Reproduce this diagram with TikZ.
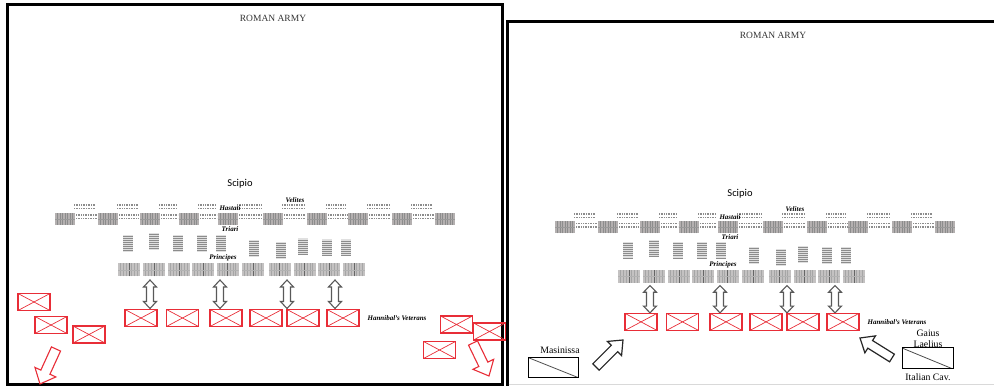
\documentclass[tikz,border=0pt]{standalone}
\usepackage{fontspec}
\setmainfont{Liberation Serif}
\newfontfamily\carlito{Carlito}
\usetikzlibrary{calc}
\definecolor{armred}{RGB}{232,45,55}
\definecolor{hgray}{RGB}{180,176,176}
\definecolor{pgray}{RGB}{196,194,194}
\tikzset{
  unit/.style={inner sep=0pt, outer sep=0pt},
  hast/.style={unit, minimum width=20pt, minimum height=12pt, fill=hgray,
    path picture={\foreach \k in {0.12,0.25,0.37,0.5,0.62,0.75,0.87}{\draw[black!45,line width=0.35pt]
      ($(path picture bounding box.south west)!\k!(path picture bounding box.south east)$) --
      ($(path picture bounding box.north west)!\k!(path picture bounding box.north east)$);}
      \draw[black!40,line width=0.3pt] ($(path picture bounding box.west)$) -- ($(path picture bounding box.east)$);}},
  prin/.style={unit, minimum width=22pt, minimum height=13pt, fill=pgray,
    path picture={\foreach \k in {0.12,0.25,0.37,0.62,0.75,0.87}{\draw[black!35,line width=0.35pt]
      ($(path picture bounding box.south west)!\k!(path picture bounding box.south east)$) --
      ($(path picture bounding box.north west)!\k!(path picture bounding box.north east)$);}
      \draw[black!60,line width=0.6pt]
      ($(path picture bounding box.south west)!0.5!(path picture bounding box.south east)$) --
      ($(path picture bounding box.north west)!0.5!(path picture bounding box.north east)$);
      \draw[black!30,line width=0.3pt] ($(path picture bounding box.west)$) -- ($(path picture bounding box.east)$);}},
  tria/.style={unit, minimum width=10pt, minimum height=17pt, fill=black!12,
    path picture={\foreach \k in {0.08,0.2,0.32,0.44,0.56,0.68,0.8,0.92}{\draw[black!45,line width=0.7pt]
      ($(path picture bounding box.north west)!\k!(path picture bounding box.south west)$) --
      ($(path picture bounding box.north east)!\k!(path picture bounding box.south east)$);}}},
  vet/.style={unit, draw=armred, line width=1.1pt, minimum width=32pt, minimum height=17pt,
    path picture={\draw[armred, line width=0.7pt]
      (path picture bounding box.north west) -- (path picture bounding box.south east)
      (path picture bounding box.south west) -- (path picture bounding box.north east);}},
  velite/.style={black!45, line width=1.4pt, dash pattern=on 0.7pt off 1pt},
  dblarrow/.style={draw=black!65, fill=white, line width=1.1pt, line join=miter},
  redarrow/.style={draw=armred, fill=white, line width=1.1pt, line join=miter},
  blkarrow/.style={draw=black!85, fill=white, line width=1.2pt, line join=miter},
  title/.style={unit, text=black!80, font=\fontsize{9.5}{11}\selectfont},
  scip/.style={unit, font=\carlito\fontsize{10.5}{12}\selectfont},
  lab/.style={unit, font=\bfseries\itshape\fontsize{7}{8}\selectfont},
  cav/.style={unit, font=\fontsize{9.8}{11}\selectfont, align=center},
  cavbox/.style={unit, draw=black, line width=1pt, minimum width=50pt, minimum height=20pt,
    path picture={\draw[black!70, line width=0.8pt]
      (path picture bounding box.north west) -- (path picture bounding box.south east);}}
}
% velites cluster in a gap between two hastati blocks
\newcommand\velgap[2]{%
  \draw[velite] (#1-1,205) -- (#2-2,205) (#1-1,208.5) -- (#2-2,208.5)
                (#1+1,215) -- (#2-1,215) (#1+1,218.5) -- (#2-1,218.5);}
% vertical double block arrow
\newcommand\dblarr[3]{%
  \draw[dblarrow] (#1,#2) -- ++(6.5,7) -- ++(-3,0) -- (#1+3.5,#3-7) -- ++(3,0) -- (#1,#3)
    -- ++(-6.5,-7) -- ++(3,0) -- (#1-3.5,#2+7) -- ++(-3,0) -- cycle;}
% block arrow from tail #2 to tip #3 (coordinate names), style #1
\newcommand\blockarr[6]{%
  \coordinate (ah) at ($(#3)!#6!(#2)$);
  \draw[#1] ($(#2)!#4!90:(#3)$) -- ($(ah)!#4!90:(#3)$) -- ($(ah)!#5!90:(#3)$) -- (#3)
    -- ($(ah)!#5!-90:(#3)$) -- ($(ah)!#4!-90:(#3)$) -- ($(#2)!#4!-90:(#3)$) -- cycle;}
% the army formation (shared by both panels)
\newcommand\armyunits[1]{%
  \node[title] (#1title) at (273,18) {ROMAN ARMY};
  \node[scip] (#1scipio) at (240,184) {Scipio};
  \foreach \a/\b in {75/98,118/140,160/179,199/218,238/263,283/307,327/348,368/392,412/435}{\velgap{\a}{\b}}
  \foreach \x [count=\i] in {65,108,150,189,228,273,317,358,402,445}
    \node[hast] (#1h\i) at (\x,219) {};
  \foreach \x/\y [count=\i] in {128/243.5,154/241.5,178/243.5,202/243.5,221/243.5,254/248.5,281/250.5,303/247,327/248,346/248}
    \node[tria] (#1t\i) at (\x,\y) {};
  \foreach \x [count=\i] in {129,154,179,203,227.5,253,279.5,304.5,329,354}
    \node[prin] (#1p\i) at (\x,270) {};
  \node[lab] (#1hast) at (230,208) {Hastati};
  \node[lab] (#1veli) at (295,200) {Velites};
  \node[lab] (#1tria) at (230,229) {Triari};
  \node[lab] (#1prin) at (223,258) {Principes};
  \foreach \x in {150,220,287,335}{\dblarr{\x}{280}{308.5}}
  \foreach \x [count=\i] in {141,182.5,226,266,303,343}
    \node[vet] (#1v\i) at (\x,318) {};
  \node[lab] (#1vetlab) at (397,318) {Hannibal's Veterans};
}
\begin{document}
\begin{tikzpicture}[x=1pt,y=-1pt]
\path[use as bounding box] (0,0) rectangle (994,387);
% ---------- left panel ----------
\draw[line width=3pt] (7,5) rectangle (502,385);
\armyunits{L}
\node[vet] (Lw1) at (34,302) {};
\node[vet] (Lw2) at (51,325) {};
\node[vet] (Lw3) at (89,334.5) {};
\node[vet] (Le1) at (456.5,324.5) {};
\node[vet] (Le2) at (489.5,331.5) {};
\node[vet] (Le3) at (439.5,350) {};
\coordinate (Lra1) at (56,349);
\coordinate (Lra2) at (40,384);
\blockarr{redarrow}{Lra1}{Lra2}{5pt}{11.5pt}{13pt}
\coordinate (Lrb1) at (473,343);
\coordinate (Lrb2) at (489,376);
\blockarr{redarrow}{Lrb1}{Lrb2}{5pt}{11.5pt}{13pt}
% ---------- right panel ----------
\draw[line width=3pt] (507,386) -- (507,22) -- (994,22);
\draw[black!15, line width=0.8pt] (508.5,384) -- (994,384);
\begin{scope}[shift={(500,18.2)}, yscale=0.955]
\armyunits{R}
\end{scope}
\node[cav] (masl) at (560,350) {Masinissa};
\node[cavbox] (masb) at (553,367.5) {};
\coordinate (ma1) at (596,367);
\coordinate (ma2) at (623,340);
\blockarr{blkarrow}{ma1}{ma2}{4.5pt}{10pt}{12pt}
\node[cav] (gail) at (928,338.5) {Gaius\\Laelius};
\node[cavbox, minimum width=51pt, minimum height=21pt] (gaib) at (927.5,358.5) {};
\node[cav] (ital) at (928,377) {Italian Cav.};
\coordinate (la1) at (892,358);
\coordinate (la2) at (860,338);
\blockarr{blkarrow}{la1}{la2}{4.5pt}{10pt}{12pt}
\end{tikzpicture}
\end{document}
